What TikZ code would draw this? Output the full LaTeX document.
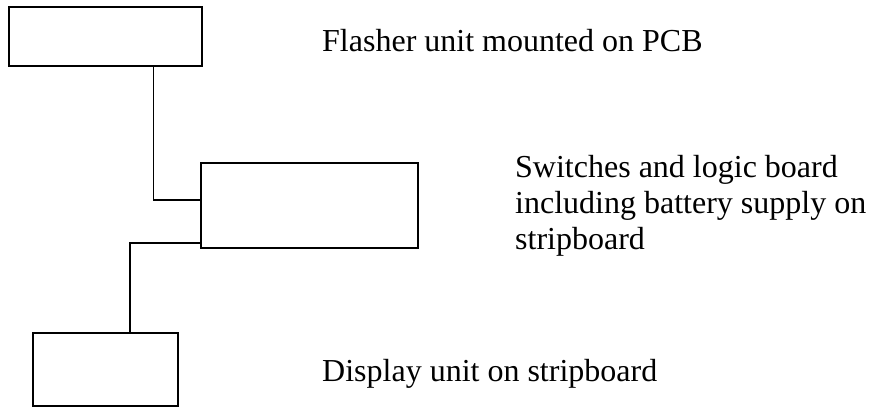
\documentclass[tikz,border=0pt]{standalone}
\usepackage{fontspec}
\setmainfont{Liberation Serif}
\usetikzlibrary{positioning}

\begin{document}
\begin{tikzpicture}[x=1pt,y=-1pt,
  unit/.style={draw,line width=1.1pt,inner sep=0pt},
  note/.style={anchor=base west,align=left,inner sep=0pt,
    font=\fontsize{32}{36}\selectfont},
  wire/.style={line width=1.1pt}]
\useasboundingbox (0,0) rectangle (870,407);
\node[unit,minimum width=193pt,minimum height=59pt] (flasher) at (105.5,36.5) {};
\node[unit,minimum width=217pt,minimum height=85pt] (logic) at (309.5,205.5) {};
\node[unit,minimum width=145pt,minimum height=73pt] (display) at (105.5,369.5) {};
\node[note] (flashertxt) at (322,51.7) {Flasher unit mounted on PCB};
\node[note] (logictxt) at (515,249) {Switches and logic board\\including battery supply on\\stripboard};
\node[note] (displaytxt) at (322,381) {Display unit on stripboard};
\draw[wire] ([xshift=48pt]flasher.south) |- ([yshift=5.5pt]logic.west);
\draw[wire] ([yshift=-37.5pt]logic.west) -| ([xshift=24.5pt]display.north);
\end{tikzpicture}
\end{document}
